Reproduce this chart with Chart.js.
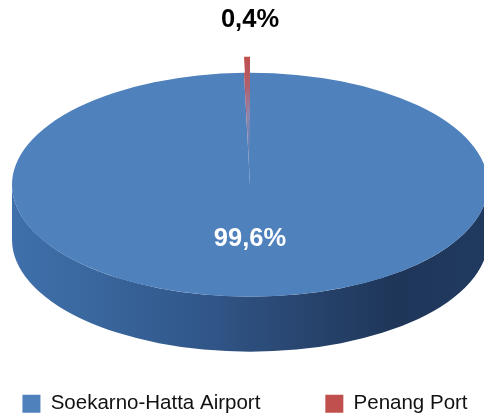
<!DOCTYPE html>
<html><head><meta charset="utf-8">
<style>html,body{margin:0;padding:0;background:#fff}#w{position:relative;width:484px;height:417px}canvas{display:block}</style>
<script src="https://cdn.jsdelivr.net/npm/chart.js@4/dist/chart.umd.js"></script>
</head><body><div id="w"><canvas id="c" width="484" height="417"></canvas></div>
<script>
const categories = ["Soekarno-Hatta Airport", "Penang Port"];
const values = [99.6, 0.4];
const valueLabels = ["99,6%", "0,4%"];
const solidColors = ["#4f81bd", "#c0504d"];

const FACE_X = 250, RY = 112, RX = 238, DEPTH = 55, LIFT = 16;

function sliceFill(ctx) {
  const chart = ctx.chart;
  if (ctx.dataIndex === 0 || !chart.chartArea) return solidColors[ctx.dataIndex];
  const a = chart.chartArea, cy = (a.top + a.bottom) / 2;
  const g = chart.ctx.createLinearGradient(0, cy - RY - LIFT, 0, cy - LIFT);
  g.addColorStop(0, "#a8404f");
  g.addColorStop(0.15, "#c0504d");
  g.addColorStop(0.4, "#b0606e");
  g.addColorStop(0.65, "#8d86ad");
  g.addColorStop(1, "#4f81bd");
  return g;
}

const pie3d = {
  id: "pie3d",
  beforeDatasetsDraw(chart) {
    const el = chart.getDatasetMeta(0).data[0], c = chart.ctx;
    const cy = el.y;
    c.save();
    const g = c.createLinearGradient(FACE_X - RX, 0, FACE_X + RX, 0);
    g.addColorStop(0, "#3f70ab");
    g.addColorStop(0.15, "#3a689f");
    g.addColorStop(0.4, "#31578a");
    g.addColorStop(0.55, "#2b4a76");
    g.addColorStop(0.8, "#1f3659");
    g.addColorStop(1, "#203a5f");
    c.fillStyle = g;
    c.beginPath();
    c.ellipse(FACE_X, cy, RX, RY, 0, 0, Math.PI);
    c.lineTo(FACE_X - RX, cy + DEPTH);
    c.ellipse(FACE_X, cy + DEPTH, RX, RY, 0, Math.PI, 0, true);
    c.closePath();
    c.fill();
    c.restore();
    c.save();
    c.translate(FACE_X, 0);
    c.scale(RX / RY, 1);
    c.translate(-el.x, 0);
  },
  afterDatasetsDraw(chart) {
    const c = chart.ctx;
    c.translate(0, -LIFT);
    chart.getDatasetMeta(0).data[1].draw(c);
    c.restore();
  },
  afterDraw(chart) {
    const c = chart.ctx, cy = chart.getDatasetMeta(0).data[0].y;
    c.save();
    c.textAlign = "center";
    c.textBaseline = "middle";
    c.font = "bold 25.5px 'Liberation Sans'";
    c.fillStyle = "#fff";
    c.fillText(valueLabels[0], FACE_X, cy + 54);
    c.fillStyle = "#000";
    c.fillText(valueLabels[1], FACE_X, cy - 165);
    c.restore();
  }
};

new Chart(document.getElementById("c"), {
  type: "pie",
  plugins: [pie3d],
  data: {
    labels: categories,
    datasets: [{
      data: values,
      backgroundColor: sliceFill,
      borderWidth: 0,
      clip: false
    }]
  },
  options: {
    responsive: false,
    animation: false,
    radius: RY,
    layout: { padding: { top: 41, bottom: -7, left: -85, right: -91 } },
    plugins: {
      tooltip: { enabled: false },
      legend: {
        position: "bottom",
        labels: {
          boxWidth: 18, boxHeight: 18, padding: 65,
          color: "#111",
          font: { family: "'Liberation Sans'", size: 20.5 },
          generateLabels() {
            return categories.map((t, i) => ({
              text: t, fillStyle: solidColors[i], strokeStyle: solidColors[i],
              lineWidth: 0, index: i, fontColor: "#111"
            }));
          }
        }
      }
    }
  }
});
</script></body></html>
